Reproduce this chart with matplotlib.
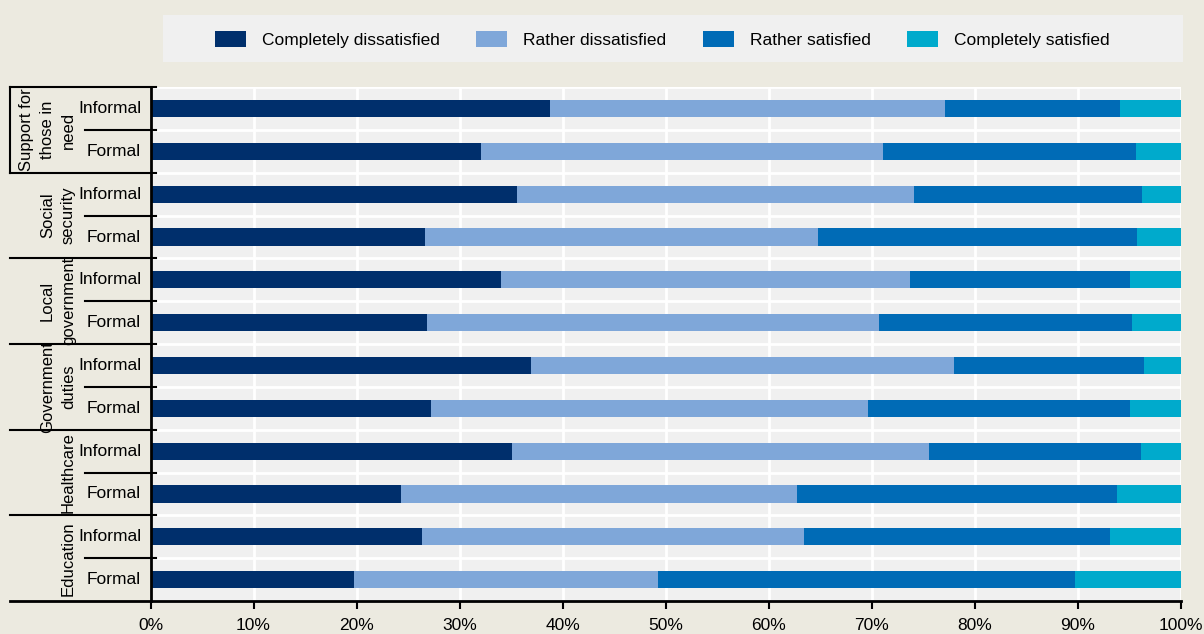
import numpy as np
import matplotlib.pyplot as plt
import matplotlib.transforms as mtransforms
from matplotlib.patches import Rectangle

plt.rcParams['font.family'] = ['Liberation Sans Narrow', 'Liberation Sans', 'DejaVu Sans']

# Data (percent of respondents)
groups = ["Support for\nthose in\nneed", "Social\nsecurity", "Local\ngovernment",
          "Government\nduties", "Healthcare", "Education"]
types = ["Informal", "Formal"]
series = ["Completely dissatisfied", "Rather dissatisfied",
          "Rather satisfied", "Completely satisfied"]

completely_dissatisfied = [38.8, 32.1, 35.6, 26.6, 34.0, 26.8, 36.9, 27.2, 35.1, 24.3, 26.3, 19.7]
rather_dissatisfied = [38.3, 39.0, 38.5, 38.2, 39.7, 43.9, 41.1, 42.4, 40.4, 38.4, 37.1, 29.5]
rather_satisfied = [17.0, 24.5, 22.1, 30.9, 21.3, 24.5, 18.4, 25.4, 20.6, 31.1, 29.7, 40.5]
completely_satisfied = [5.9, 4.4, 3.8, 4.3, 5.0, 4.8, 3.6, 5.0, 3.9, 6.2, 6.9, 10.3]

colors = ["#002F6C", "#7FA7D9", "#006BB6", "#00AACC"]
fig_bg = "#ECEAE0"
plot_bg = "#F0F0F0"

values = [completely_dissatisfied, rather_dissatisfied, rather_satisfied, completely_satisfied]

fig = plt.figure(figsize=(12.04, 6.34), dpi=100, facecolor=fig_bg)
ax = fig.add_axes([0.125, 0.052, 0.856, 0.8105])
ax.set_facecolor(plot_bg)

n_rows = len(groups) * len(types)
y = np.arange(n_rows)
left = np.zeros(n_rows)
for vals, name, color in zip(values, series, colors):
    ax.barh(y, vals, left=left, height=0.4, color=color, label=name, zorder=3)
    left += np.array(vals)

ax.set_xlim(0, 100)
ax.set_ylim(n_rows - 0.5, -0.5)

ax.set_xticks(np.arange(0, 101, 10))
ax.set_xticklabels([f"{v}%" for v in range(0, 101, 10)], fontsize=12.5)
ax.set_yticks([])
ax.set_yticks(np.arange(-0.5, n_rows, 1), minor=True)
ax.tick_params(axis='y', which='both', length=0, labelleft=False)
ax.tick_params(axis='x', direction='out', length=6, width=1.5, color='black', pad=6)

ax.grid(axis='x', which='major', color='white', lw=2)
ax.grid(axis='y', which='minor', color='white', lw=2)
ax.set_axisbelow(True)

for s in ['top', 'right', 'bottom']:
    ax.spines[s].set_visible(False)
ax.spines['left'].set_linewidth(2)
ax.spines['left'].set_color('black')
ax.spines['left'].set_zorder(5)

# Left-hand category table
trans = mtransforms.blended_transform_factory(ax.transAxes, ax.transData)
x_out = -0.136
x_mid = -0.064
x_in = 0.005

ax.plot([x_out, 1.0], [n_rows - 0.5, n_rows - 0.5], transform=trans,
        color='black', lw=2, clip_on=False, zorder=6)
for g in range(len(groups)):
    top = 2 * g - 0.5
    ax.plot([x_out, x_in], [top, top], transform=trans, color='black',
            lw=1.5, clip_on=False)
    ax.plot([x_mid, x_in], [top + 1, top + 1], transform=trans, color='black',
            lw=1.5, clip_on=False)
    ax.text(-0.0722, top + 1, groups[g], transform=trans, rotation=90,
            ha='right', va='center', multialignment='center', fontsize=12,
            linespacing=1.5)
    for t, label in enumerate(types):
        ax.text(-0.009, 2 * g + t, label, transform=trans, ha='right',
                va='center', fontsize=12.5)
ax.plot([x_out, x_out], [-0.5, 1.5], transform=trans, color='black',
        lw=1.5, clip_on=False)

# Legend
fig.patches.append(Rectangle((163 / 1204, 1 - 62 / 634), 1020 / 1204, 47 / 634,
                             transform=fig.transFigure, facecolor=plot_bg,
                             edgecolor='none', zorder=0))
handles, labels = ax.get_legend_handles_labels()
fig.legend(handles, labels, loc='center left', bbox_to_anchor=(215 / 1204, 1 - 39.5 / 634),
           ncol=4, frameon=False, fontsize=12.5, handlelength=1.8, handleheight=1.0,
           handletextpad=0.9, columnspacing=2.1, borderpad=0, borderaxespad=0)

fig.savefig("out.png", dpi=100, facecolor=fig_bg)
